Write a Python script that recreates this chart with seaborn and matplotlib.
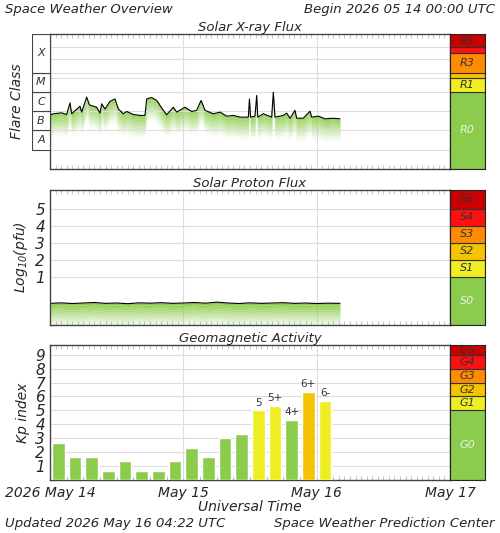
import numpy as np
import matplotlib
matplotlib.use("Agg")
import matplotlib.pyplot as plt
import seaborn as sns

# ---------- data ----------
xray_hours = [0.1, 0.6, 2.1, 3.0, 3.6, 3.9, 5.4, 5.7, 6.6, 7.1, 8.4, 9.0, 9.3, 9.9, 10.8,
              11.7, 12.3, 13.2, 13.8, 15.0, 16.2, 17.1, 17.4, 18.3, 19.2, 20.4, 21.0, 22.2,
              22.8, 24.3, 25.5, 26.4, 27.2, 27.9, 29.4, 30.6, 31.8, 33.0, 34.2, 35.7, 35.9,
              36.1, 36.9, 37.2, 37.4, 38.4, 39.9, 40.2, 40.5, 42.0, 42.6, 43.2, 44.1, 44.4,
              45.6, 46.8, 47.1, 48.3, 49.5, 51.0, 52.2]
xray_flux = [6.5e-7, 7.3e-7, 8.2e-7, 6.7e-7, 2.7e-6, 7.3e-7, 1.8e-6, 8.9e-7, 5.3e-6, 2.1e-6,
             1.6e-6, 7.9e-7, 2.4e-6, 1.3e-6, 3.2e-6, 4.3e-6, 1.3e-6, 7.3e-7, 9.6e-7, 6.7e-7,
             6.0e-7, 6.0e-7, 4.3e-6, 5.1e-6, 3.6e-6, 1.1e-6, 6.5e-7, 1.6e-6, 8.9e-7, 1.6e-6,
             9.6e-7, 1.1e-6, 3.6e-6, 1.1e-6, 7.3e-7, 8.9e-7, 5.5e-7, 6.0e-7, 4.9e-7, 4.9e-7,
             4.3e-6, 4.9e-7, 5.5e-7, 6.5e-6, 4.9e-7, 7.3e-7, 4.9e-7, 9.6e-6, 4.9e-7, 6.0e-7,
             7.9e-7, 4.3e-7, 1.1e-6, 4.3e-7, 4.3e-7, 1.0e-6, 4.9e-7, 5.5e-7, 4.0e-7, 4.3e-7,
             4.0e-7]

proton_hours = [0.1, 2, 4, 6, 8, 10, 12, 14, 16, 18, 20, 22, 24, 26, 28, 30, 32, 34, 36,
                38, 40, 42, 44, 46, 48, 50, 52.2]
proton_log = [-0.55, -0.52, -0.56, -0.53, -0.50, -0.55, -0.53, -0.57, -0.52, -0.54, -0.51,
              -0.55, -0.53, -0.50, -0.54, -0.48, -0.53, -0.56, -0.52, -0.55, -0.53, -0.51,
              -0.55, -0.53, -0.56, -0.54, -0.55]

kp_values = [2.67, 1.67, 1.67, 0.67, 1.33, 0.67, 0.67, 1.33, 2.33, 1.67, 3.0, 3.33,
             5.0, 5.33, 4.33, 6.33, 5.67]
kp_labels = ["", "", "", "", "", "", "", "", "", "", "", "", "5", "5+", "4+", "6+", "6-"]

day_ticks = [0, 24, 48, 72]
day_labels = ["2026 May 14", "May 15", "May 16", "May 17"]

GREEN = "#8ccc4c"
sns.set_style("white")
plt.rcParams["font.family"] = ["DejaVu Sans"]
plt.rcParams["font.style"] = "italic"

W, H = 500, 533
fig = plt.figure(figsize=(5, 5.33), dpi=100)


def rect(x0, y0, x1, y1):
    return [x0 / W, 1 - y1 / H, (x1 - x0) / W, (y1 - y0) / H]


def base_axes(ax):
    ax.set_xlim(0, 72)
    ax.set_xticks(day_ticks)
    ax.set_xticks(np.arange(0, 73, 1), minor=True)
    ax.tick_params(axis="x", which="minor", direction="in", top=True, bottom=True,
                   length=3, color="#bbbbbb", width=0.6)
    ax.tick_params(axis="x", which="major", length=0, labelbottom=False)
    ax.grid(True, axis="x", which="major", color="#dddddd", lw=0.8)
    for s in ax.spines.values():
        s.set_color("#444444")
        s.set_linewidth(1)


def side_scale(ax, bands, ylim, log=False):
    if log:
        ax.set_yscale("log")
    ax.set_ylim(*ylim)
    ax.set_xlim(0, 1)
    for lo, hi, col, lab, tcol in bands:
        ax.axhspan(lo, hi, color=col, ec="#333333", lw=0.8)
        if lab:
            mid = np.sqrt(lo * hi) if log else (lo + hi) / 2
            ax.text(0.5, mid, lab, ha="center", va="center", fontsize=8, color=tcol)
    ax.set_xticks([])
    ax.set_yticks([])
    ax.minorticks_off()


# ---------- X-ray ----------
ax1 = fig.add_axes(rect(50, 34, 450, 169))
ax1.set_yscale("log")
base_axes(ax1)
ax1.set_ylim(1e-9, 1e-2)
ax1.set_yticks([])
ax1.set_yticks([], minor=True)
for lvl in [1e-8, 1e-7, 1e-6, 1e-5, 1e-4, 5e-5, 5e-4, 2e-3]:
    ax1.axhline(lvl, color="#dddddd", lw=0.8)
f = np.array(xray_flux)
for i in range(12):
    ax1.fill_between(xray_hours, f * 10 ** (-i * 0.1), f * 10 ** (-(i + 1) * 0.1),
                     color=GREEN, alpha=max(0.04, 0.9 - i / 12), lw=0)
sns.lineplot(x=xray_hours, y=xray_flux, ax=ax1, color="black", lw=0.8)
ax1.set_title("Solar X-ray Flux", fontsize=9.5, pad=2)

axc = fig.add_axes(rect(32, 34, 50, 169))
axc.set_yscale("log")
axc.set_ylim(1e-9, 1e-2)
axc.set_xlim(0, 1)
axc.axis("off")
for lo, hi, lab in [(1e-8, 1e-7, "A"), (1e-7, 1e-6, "B"), (1e-6, 1e-5, "C"),
                    (1e-5, 1e-4, "M"), (1e-4, 1e-2, "X")]:
    axc.add_patch(plt.Rectangle((0, lo), 1, hi - lo, fc="white", ec="#444444", lw=0.8))
    axc.text(0.5, 1e-3 if lab == "X" else np.sqrt(lo * hi),
             lab, ha="center", va="center", fontsize=8, color="#333333")
fig.text(17 / W, 1 - 101 / H, "Flare Class", rotation=90, ha="center", va="center",
         fontsize=10)

axr = fig.add_axes(rect(450, 34, 485, 169))
side_scale(axr, [(1e-9, 1e-5, GREEN, "R0", "#e8f4dc"),
                 (1e-5, 5e-5, "#eeee22", "R1", "#333333"),
                 (5e-5, 1e-4, "#f5c400", "", ""),
                 (1e-4, 1e-3, "#ff8c00", "R3", "#333333"),
                 (1e-3, 2e-3, "#ff1010", "", ""),
                 (2e-3, 1e-2, "#cc0000", "R5", "#333333")], (1e-9, 1e-2), log=True)

# ---------- Protons ----------
ax2 = fig.add_axes(rect(50, 190, 450, 325))
base_axes(ax2)
ax2.set_ylim(-1.82, 6.1)
ax2.set_yticks([1, 2, 3, 4, 5])
ax2.tick_params(axis="y", labelsize=11, length=0)
for lvl in [1, 2, 3, 4, 5]:
    ax2.axhline(lvl, color="#dddddd", lw=0.8)
p = np.array(proton_log)
for i in range(13):
    ax2.fill_between(proton_hours, p - i * 0.1, p - (i + 1) * 0.1,
                     color=GREEN, alpha=max(0.15, 1 - i / 13), lw=0)
sns.lineplot(x=proton_hours, y=proton_log, ax=ax2, color="black", lw=0.8)
ax2.set_ylabel("Log$_{10}$(pfu)", fontsize=10)
ax2.set_title("Solar Proton Flux", fontsize=9.5, pad=2)

axs = fig.add_axes(rect(450, 190, 485, 325))
side_scale(axs, [(-1.82, 1, GREEN, "S0", "#e8f4dc"),
                 (1, 2, "#eeee22", "S1", "#333333"),
                 (2, 3, "#f5c400", "S2", "#333333"),
                 (3, 4, "#ff8c00", "S3", "#333333"),
                 (4, 5, "#ff1010", "S4", "#333333"),
                 (5, 6.1, "#cc0000", "S5", "#333333")], (-1.82, 6.1))

# ---------- Kp ----------
ax3 = fig.add_axes(rect(50, 345, 450, 480))
base_axes(ax3)
ax3.set_ylim(0, 9.7)
ax3.set_yticks(range(1, 10))
ax3.tick_params(axis="y", labelsize=11, length=0)
ax3.tick_params(axis="x", which="major", labelbottom=True, labelsize=10, pad=4)
ax3.set_xticklabels(day_labels)
for lvl in range(1, 10):
    ax3.axhline(lvl, color="#dddddd", lw=0.8)
kp_x = [1.5 + 3 * i for i in range(len(kp_values))]
kp_cols = [GREEN if v < 4.9 else ("#eeee22" if v < 6 else "#f5c400") for v in kp_values]
ax3.bar(kp_x, kp_values, width=2.3, color=kp_cols, zorder=3)
for x, v, lab in zip(kp_x, kp_values, kp_labels):
    if lab:
        ax3.text(x, v + 0.2, lab, ha="center", va="bottom", fontsize=7.5, style="normal",
                 color="#333333")
ax3.set_ylabel("Kp index", fontsize=10)
ax3.set_xlabel("Universal Time", fontsize=10, labelpad=0)
ax3.set_title("Geomagnetic Activity", fontsize=9.5, pad=2)

axg = fig.add_axes(rect(450, 345, 485, 480))
side_scale(axg, [(0, 5, GREEN, "G0", "#e8f4dc"),
                 (5, 6, "#eeee22", "G1", "#333333"),
                 (6, 7, "#f5c400", "G2", "#333333"),
                 (7, 8, "#ff8c00", "G3", "#333333"),
                 (8, 9, "#ff1010", "G4", "#333333"),
                 (9, 9.7, "#cc0000", "G5", "#333333")], (0, 9.7))

fig.text(5 / W, 1 - 9 / H, "Space Weather Overview", fontsize=9.5, va="center")
fig.text(495 / W, 1 - 9 / H, "Begin 2026 05 14 00:00 UTC", fontsize=9.5, va="center",
         ha="right")
fig.text(5 / W, 1 - 523 / H, "Updated 2026 May 16 04:22 UTC", fontsize=9.5, va="center")
fig.text(495 / W, 1 - 523 / H, "Space Weather Prediction Center", fontsize=9.5,
         va="center", ha="right")

fig.savefig("out.png", dpi=100)
